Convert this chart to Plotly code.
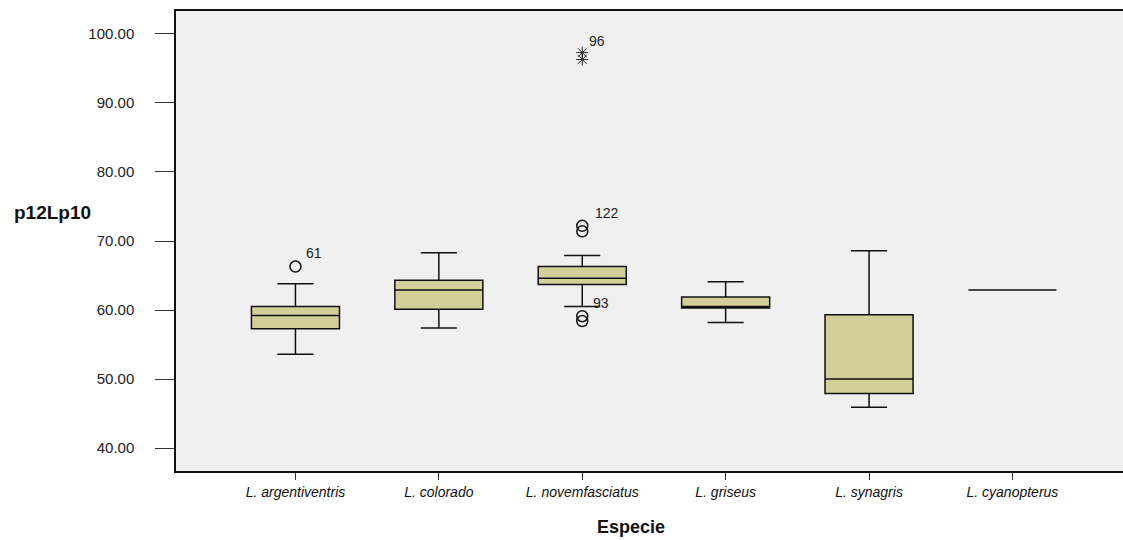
import plotly.graph_objects as go

# Species on the category axis
species = ["L. argentiventris", "L. colorado", "L. novemfasciatus",
           "L. griseus", "L. synagris", "L. cyanopterus"]

# Box statistics for p12Lp10 per species
lower_whisker = [53.6, 57.4, 60.5, 58.2, 45.9, 62.9]
q1_values = [57.3, 60.1, 63.7, 60.3, 47.9, 62.9]
median_values = [59.2, 62.9, 64.6, 60.5, 50.0, 62.9]
q3_values = [60.5, 64.3, 66.3, 61.9, 59.3, 62.9]
upper_whisker = [63.8, 68.3, 67.9, 64.1, 68.6, 62.9]

# Outliers (circles) and extreme values (stars): species index and value
outlier_idx = [0, 2, 2, 2, 2]
outlier_val = [66.3, 72.2, 71.4, 59.1, 58.4]
extreme_idx = [2, 2]
extreme_val = [97.3, 96.3]

# Case labels attached to individual points: (label, species index, value, dx, dy)
case_labels = [("61", 0, 66.3, 19, 14),
               ("122", 2, 72.2, 25, 13),
               ("93", 2, 59.1, 19, 13),
               ("96", 2, 97.3, 15, 12)]

y_ticks = [40, 50, 60, 70, 80, 90, 100]

positions = list(range(len(species)))
font_family = "Liberation Sans, Arial, sans-serif"

fig = go.Figure()

fig.add_trace(go.Box(
    x=positions,
    q1=q1_values,
    median=median_values,
    q3=q3_values,
    lowerfence=lower_whisker,
    upperfence=upper_whisker,
    width=0.614,
    whiskerwidth=0.41,
    fillcolor="#D3CF9B",
    line=dict(color="#111111", width=1.5),
    boxpoints=False,
    hoverinfo="skip",
    showlegend=False,
))

fig.add_trace(go.Scatter(
    x=outlier_idx, y=outlier_val, mode="markers",
    marker=dict(symbol="circle-open", size=11, color="#111111",
                line=dict(width=1.5, color="#111111")),
    showlegend=False, hoverinfo="skip",
))

fig.add_trace(go.Scatter(
    x=extreme_idx, y=extreme_val, mode="markers",
    marker=dict(symbol="asterisk-open", size=10, color="#222222",
                line=dict(width=1, color="#222222")),
    showlegend=False, hoverinfo="skip",
))

for text, idx, val, dx, dy in case_labels:
    fig.add_annotation(x=idx, y=val, xref="x", yref="y", text=text,
                       showarrow=False, xshift=dx, yshift=dy,
                       font=dict(family=font_family, size=14, color="#222222"))

# Axis titles
fig.add_annotation(text="<b>Especie</b>", xref="paper", yref="paper",
                   x=(631 - 176) / (1123 - 176), y=-(527 - 471) / 460,
                   xanchor="center", yanchor="middle", showarrow=False,
                   font=dict(family=font_family, size=18, color="#111111"))
fig.add_annotation(text="<b>p12Lp10</b>", xref="paper", yref="paper",
                   x=-(176 - 12) / (1123 - 176), y=(471 - 212) / 460,
                   xanchor="left", yanchor="middle", showarrow=False,
                   font=dict(family=font_family, size=19, color="#111111"))

fig.update_layout(
    width=1123, height=540,
    margin=dict(l=176, r=0, t=11, b=69),
    paper_bgcolor="white",
    plot_bgcolor="#F0F0F0",
    font=dict(family=font_family, color="#222222"),
    xaxis=dict(
        range=[-0.833, 5.771],
        tickmode="array", tickvals=positions, ticktext=species,
        tickfont=dict(size=14, style="italic", color="#111111"),
        ticks="outside", ticklen=7, tickcolor="#333333", tickwidth=1,
        showline=True, linecolor="#111111", linewidth=1.5, mirror=True,
        showgrid=False, zeroline=False,
    ),
    yaxis=dict(
        range=[36.67, 103.33],
        tickmode="array", tickvals=y_ticks,
        ticktext=[f"{v:.2f}" for v in y_ticks],
        tickfont=dict(size=15, color="#222222"),
        ticks="outside", ticklen=19, tickcolor="#333333", tickwidth=1,
        ticklabelstandoff=18,
        showline=True, linecolor="#111111", linewidth=1.5, mirror=False,
        showgrid=False, zeroline=False,
    ),
)

fig.write_html("out.html")
